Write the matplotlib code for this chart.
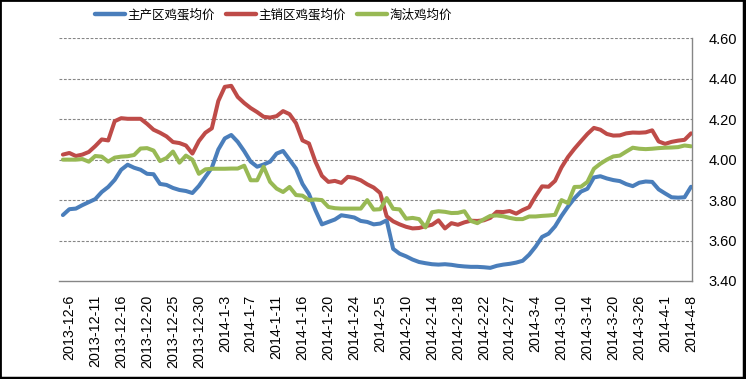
import matplotlib
matplotlib.use("Agg")
import matplotlib.pyplot as plt
from matplotlib.lines import Line2D
from matplotlib.patches import Rectangle
import numpy as np

tick_labels = ["2013-12-6", "2013-12-11", "2013-12-16", "2013-12-20", "2013-12-25",
               "2013-12-30", "2014-1-3", "2014-1-7", "2014-1-11", "2014-1-16",
               "2014-1-20", "2014-1-24", "2014-2-5", "2014-2-10", "2014-2-14",
               "2014-2-18", "2014-2-22", "2014-2-27", "2014-3-4", "2014-3-10",
               "2014-3-14", "2014-3-20", "2014-3-26", "2014-4-1", "2014-4-8"]

series_names = ["主产区鸡蛋均价", "主销区鸡蛋均价", "淘汰鸡均价"]

producing = [3.726, 3.755, 3.758, 3.775, 3.79, 3.805, 3.84, 3.865, 3.90, 3.95,
             3.975, 3.96, 3.95, 3.93, 3.928, 3.88, 3.875, 3.86, 3.85, 3.845,
             3.835, 3.87, 3.915, 3.96, 4.05, 4.105, 4.122, 4.088, 4.042, 3.99,
             3.965, 3.976, 3.99, 4.03, 4.043, 4.0, 3.956, 3.88, 3.83, 3.75,
             3.68, 3.692, 3.704, 3.725, 3.72, 3.714, 3.697, 3.692, 3.68, 3.684,
             3.70, 3.559, 3.535, 3.522, 3.506, 3.494, 3.488, 3.483, 3.481, 3.483,
             3.48, 3.475, 3.472, 3.47, 3.47, 3.468, 3.465, 3.475, 3.481, 3.485,
             3.491, 3.50, 3.53, 3.57, 3.618, 3.634, 3.67, 3.722, 3.768, 3.809,
             3.842, 3.856, 3.912, 3.918, 3.907, 3.899, 3.894, 3.879, 3.869, 3.886,
             3.892, 3.89, 3.853, 3.833, 3.814, 3.812, 3.814, 3.866]

consuming = [4.025, 4.033, 4.018, 4.025, 4.038, 4.067, 4.10, 4.095, 4.19, 4.205,
             4.202, 4.202, 4.202, 4.177, 4.148, 4.133, 4.115, 4.087, 4.082, 4.07,
             4.03, 4.092, 4.133, 4.155, 4.29, 4.36, 4.365, 4.31, 4.28, 4.255,
             4.235, 4.212, 4.208, 4.215, 4.24, 4.225, 4.18, 4.095, 4.08, 3.99,
             3.92, 3.89, 3.895, 3.885, 3.915, 3.91, 3.898, 3.878, 3.862, 3.835,
             3.72, 3.695, 3.68, 3.668, 3.66, 3.662, 3.671, 3.678, 3.70, 3.66,
             3.686, 3.678, 3.69, 3.698, 3.697, 3.70, 3.712, 3.742, 3.741, 3.746,
             3.733, 3.751, 3.765, 3.82, 3.868, 3.866, 3.895, 3.962, 4.013, 4.054,
             4.091, 4.127, 4.157, 4.148, 4.127, 4.119, 4.12, 4.13, 4.134, 4.133,
             4.135, 4.145, 4.09, 4.078, 4.088, 4.094, 4.098, 4.13]

culled_hen = [4.0, 4.0, 4.0, 4.003, 3.99, 4.018, 4.015, 3.99, 4.01, 4.015,
              4.017, 4.023, 4.055, 4.057, 4.045, 3.993, 4.008, 4.04, 3.985, 4.02,
              4.0, 3.93, 3.952, 3.955, 3.955, 3.955, 3.956, 3.956, 3.97, 3.898,
              3.898, 3.965, 3.89, 3.857, 3.84, 3.865, 3.825, 3.822, 3.80, 3.803,
              3.80, 3.766, 3.76, 3.758, 3.758, 3.758, 3.758, 3.80, 3.753, 3.755,
              3.81, 3.757, 3.754, 3.708, 3.712, 3.706, 3.665, 3.74, 3.745, 3.742,
              3.736, 3.737, 3.745, 3.697, 3.686, 3.705, 3.722, 3.724, 3.72, 3.712,
              3.706, 3.706, 3.719, 3.719, 3.722, 3.724, 3.727, 3.80, 3.785, 3.865,
              3.866, 3.89, 3.955, 3.98, 4.0, 4.016, 4.02, 4.04, 4.059, 4.054,
              4.052, 4.054, 4.057, 4.059, 4.06, 4.062, 4.07, 4.066]

y_ticks = [3.40, 3.60, 3.80, 4.00, 4.20, 4.40, 4.60]

colors = ["#4A7EBB", "#BE4B48", "#98B954"]

W, H = 746, 379
fig = plt.figure(figsize=(W / 100, H / 100), dpi=100)
fig.patch.set_facecolor("white")
ax = fig.add_axes([59 / W, 1 - 281 / H, (692 - 59) / W, (281 - 38.3) / H])

x = np.arange(len(producing))
for vals, c, name in zip([producing, consuming, culled_hen], colors, series_names):
    ax.plot(x, vals, color=c, lw=2.9, label=name, solid_joinstyle="round",
            solid_capstyle="round", zorder=3)

ax.set_xlim(-0.6, 97.15)
ax.set_ylim(3.40, 4.60)

ax.yaxis.tick_right()
ax.set_yticks(y_ticks)
ax.set_yticklabels([f"{v:.2f}" for v in y_ticks], fontfamily="Liberation Sans",
                   fontsize=10.5, color="black")
ax.tick_params(axis="y", length=0, pad=12)

ax.set_xticks(x[1::4])
ax.set_xticklabels(tick_labels, rotation=90, fontfamily="Liberation Sans",
                   fontsize=10.3, color="black", ha="center", va="top")
ax.tick_params(axis="x", length=0, pad=10)

for yv in y_ticks[1:]:
    ax.axhline(yv, color="#868686", lw=0.8, ls=(0, (2.5, 1.5)), zorder=1)

for s in ["left", "top"]:
    ax.spines[s].set_visible(False)
for s in ["bottom", "right"]:
    ax.spines[s].set_color("#868686")
    ax.spines[s].set_linewidth(1.0)

leg = fig.legend(loc="center left", bbox_to_anchor=(95 / W, 1 - 15 / H), ncol=3,
                 frameon=False, borderpad=0, borderaxespad=0,
                 handlelength=2.4, handletextpad=0.22, columnspacing=0.85,
                 prop={"family": ["Noto Sans CJK SC", "DejaVu Sans"], "size": 9})
for line in leg.get_lines():
    line.set_linewidth(3.2)

fig.add_artist(Rectangle((0, 0), 1, 1, transform=fig.transFigure, fill=False,
                         edgecolor="black", lw=2.0))
fig.add_artist(Line2D([0, 1], [0.003, 0.003], transform=fig.transFigure, color="black", lw=2.5))
fig.add_artist(Line2D([0.997, 0.997], [0, 1], transform=fig.transFigure, color="black", lw=2.5))

fig.savefig("out.png", dpi=100, facecolor="white")
